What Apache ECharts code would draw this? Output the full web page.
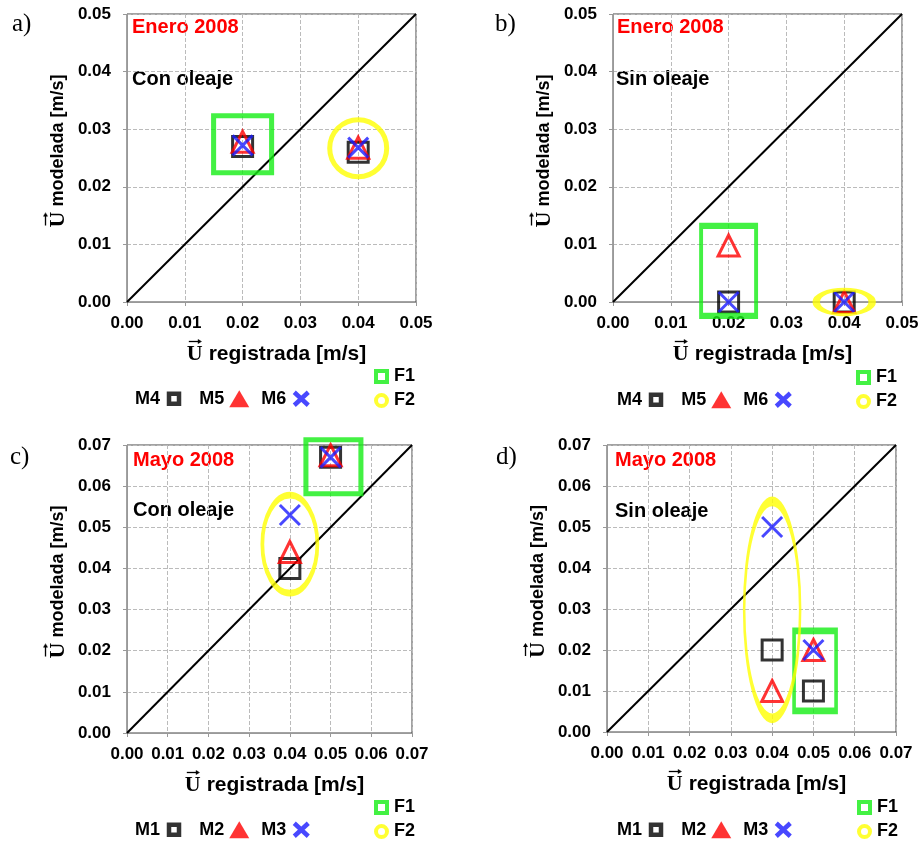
<!DOCTYPE html>
<html><head><meta charset="utf-8">
<script src="https://cdn.jsdelivr.net/npm/echarts@6/dist/echarts.min.js"></script>
<style>html,body{margin:0;padding:0;background:#fff}#c{width:922px;height:841px}</style>
</head><body><div id="c"></div>
<script>
// ---------- DATA ----------
const panelLetters = ['a)', 'b)', 'c)', 'd)'];
const panelMonths = ['Enero 2008', 'Enero 2008', 'Mayo 2008', 'Mayo 2008'];
const panelConditions = ['Con oleaje', 'Sin oleaje', 'Con oleaje', 'Sin oleaje'];
const modelNamesTop = ['M4', 'M5', 'M6'];
const modelNamesBottom = ['M1', 'M2', 'M3'];
const groupNames = ['F1', 'F2'];
const axisMax = [0.05, 0.05, 0.07, 0.07];
const axisStep = 0.01;
const vectorSymbol = 'U';
const xAxisName = 'registrada [m/s]';
const yAxisName = 'modelada [m/s]';

// U registrada (x) per panel
const registradaA = [0.02, 0.04];
const registradaB = [0.02, 0.04];
const registradaC = [0.04, 0.05];
const registradaD = [0.04, 0.05];

// U modelada (y) per panel and model
const a_M4 = [0.027, 0.026];
const a_M5 = [0.0278, 0.0268];
const a_M6 = [0.0272, 0.0268];
const b_M4 = [0.0, 0.0];
const b_M5 = [0.0098, 0.0];
const b_M6 = [0.0, 0.0];
const c_M1 = [0.040, 0.067];
const c_M2 = [0.044, 0.0675];
const c_M3 = [0.053, 0.067];
const d_M1 = [0.020, 0.010];
const d_M2 = [0.010, 0.020];
const d_M3 = [0.050, 0.020];

// group annotation centres (data units)
const f1Centers = [[0.02, 0.0274], [0.02, 0.0054], [0.0507, 0.0647], [0.0504, 0.0149]];
const f2Centers = [[0.04, 0.0267], [0.04, 0.0], [0.04, 0.0459], [0.04, 0.0298]];

// ---------- STYLE ----------
const FONT = 'Liberation Sans';
const SERIF = 'Liberation Serif';
const grids = [
  {left: 127, top: 14, width: 289, height: 288},
  {left: 613, top: 14, width: 289, height: 288},
  {left: 127, top: 445, width: 285, height: 288},
  {left: 607, top: 445, width: 289, height: 287}
];
const f1Sizes = [[58, 57], [55, 90], [55, 54], [42, 80]];
const f2Sizes = [[57, 57], [56, 25], [55, 98], [56, 217]];
const textPos = [
  {lx: 12, ly: 26, mx: 132, my: 28, cx: 132, cy: 80},
  {lx: 495, ly: 26, mx: 617, my: 28, cx: 616, cy: 80},
  {lx: 10, ly: 459, mx: 133, my: 461, cx: 133, cy: 511},
  {lx: 496, ly: 459, mx: 615, my: 461, cx: 615, cy: 512}
];
const GREEN = '#14ee14', YELLOW = '#ffff00', RED = '#ff0000', BLUE = '#1a1aff';
const X_PATH = 'path://M0,0L10,10M10,0L0,10';
const ELLIPSE = 'path://M0,50C0,22.4 22.4,0 50,0C77.6,0 100,22.4 100,50C100,77.6 77.6,100 50,100C22.4,100 0,77.6 0,50Z';
const markerStyles = [
  {symbol: 'rect', symbolSize: 20, itemStyle: {color: 'transparent', borderColor: '#000', borderWidth: 3}, z: 3},
  {symbol: 'triangle', symbolSize: 21, itemStyle: {color: 'transparent', borderColor: RED, borderWidth: 3}, z: 4},
  {symbol: X_PATH, symbolSize: 20, itemStyle: {color: 'transparent', borderColor: BLUE, borderWidth: 3}, z: 5}
];

// arrow drawn above the vector symbol (background of the rich-text segment)
function arrowCanvas(w, h) {
  const c = document.createElement('canvas');
  c.width = w; c.height = h;
  const g = c.getContext('2d');
  g.strokeStyle = '#000'; g.fillStyle = '#000'; g.lineWidth = 1.3;
  g.beginPath(); g.moveTo(2, 3.5); g.lineTo(w - 3, 3.5); g.stroke();
  g.beginPath(); g.moveTo(w - 1, 3.5); g.lineTo(w - 5, 1); g.lineTo(w - 5, 6); g.closePath(); g.fill();
  return c;
}
const ARROW = arrowCanvas(16, 32);

const registrada = [registradaA, registradaB, registradaC, registradaD];
const modelValues = [[a_M4, a_M5, a_M6], [b_M4, b_M5, b_M6], [c_M1, c_M2, c_M3], [d_M1, d_M2, d_M3]];

const axisLabelStyle = {fontFamily: FONT, fontWeight: 'bold', fontSize: 17, color: '#000'};
function nameStyle(size, pad) {
  return {
    fontFamily: FONT, fontWeight: 'bold', fontSize: size, color: '#000', padding: pad,
    rich: {u: {fontFamily: SERIF, fontWeight: 'bold', fontSize: 22, color: '#000',
      width: 16, height: 22, lineHeight: 22, padding: [5, 0, 5, 0], align: 'center',
      backgroundColor: {image: ARROW}}}
  };
}

const xAxes = [], yAxes = [], series = [], graphics = [];
for (let p = 0; p < 4; p++) {
  const common = {
    gridIndex: p, type: 'value', min: 0, max: axisMax[p], interval: axisStep,
    axisLine: {show: true, lineStyle: {color: '#999', width: 1}},
    axisTick: {show: true, length: 4, lineStyle: {color: '#999'}},
    splitLine: {show: true, lineStyle: {color: '#bbb', type: 'dashed', width: 1}},
    axisLabel: Object.assign({formatter: v => v.toFixed(2)}, axisLabelStyle),
    nameLocation: 'middle'
  };
  xAxes.push(Object.assign({}, common, {
    name: '{u|' + vectorSymbol + '} ' + xAxisName, nameGap: 41,
    nameTextStyle: nameStyle(21, [0, 0, 0, 10]),
    axisLabel: Object.assign({}, common.axisLabel, {margin: 13})
  }));
  yAxes.push(Object.assign({}, common, {
    name: '{u|' + vectorSymbol + '} ' + yAxisName, nameGap: 55,
    nameTextStyle: nameStyle(18, [0, 0, 0, 14]),
    axisLabel: Object.assign({}, common.axisLabel, {margin: 16})
  }));

  // 1:1 line
  series.push({
    type: 'line', xAxisIndex: p, yAxisIndex: p, data: [[0, 0], [axisMax[p], axisMax[p]]],
    symbol: 'none', lineStyle: {color: '#000', width: 2}, silent: true, z: 2
  });
  const names = p < 2 ? modelNamesTop : modelNamesBottom;
  names.forEach((nm, k) => {
    series.push(Object.assign({
      type: 'scatter', name: nm, xAxisIndex: p, yAxisIndex: p, clip: false, silent: true,
      data: registrada[p].map((x, i) => [x, modelValues[p][k][i]])
    }, markerStyles[k]));
  });
  series.push({
    type: 'scatter', name: groupNames[0], xAxisIndex: p, yAxisIndex: p, clip: false, silent: true,
    data: [f1Centers[p]], symbol: 'rect', symbolSize: f1Sizes[p],
    itemStyle: {color: 'transparent', borderColor: GREEN, borderWidth: 5}, z: 6
  });
  series.push({
    type: 'scatter', name: groupNames[1], xAxisIndex: p, yAxisIndex: p, clip: false, silent: true,
    data: [f2Centers[p]], symbol: ELLIPSE, symbolSize: f2Sizes[p],
    itemStyle: {color: 'transparent', borderColor: YELLOW, borderWidth: 5}, z: 6
  });

  const t = textPos[p];
  graphics.push({type: 'text', left: t.lx, top: t.ly - 14, style: {text: panelLetters[p], font: '25px ' + SERIF, fill: '#000'}});
  graphics.push({type: 'text', left: t.mx, top: t.my - 11, style: {text: panelMonths[p], font: 'bold 20px ' + FONT, fill: RED}});
  graphics.push({type: 'text', left: t.cx, top: t.cy - 11, style: {text: panelConditions[p], font: 'bold 20px ' + FONT, fill: '#000'}});
}

const legendText = {fontFamily: FONT, fontWeight: 'bold', fontSize: 18, color: '#000'};
const ICON_SQ = 'path://M0,0M4,3.5L14,3.5L14,13.5L4,13.5ZM20,17';
const ICON_TRI = 'path://M10,0L20,17L0,17Z';
const ICON_X = 'path://M0,0M3,2L17,15M17,2L3,15M20,17';
const ICON_F1 = 'path://M0,0M2,2L13,2L13,13L2,13ZM15,15';
const ICON_F2 = 'path://M0,0M2,7.5C2,4.5 4.5,2 7.5,2C10.5,2 13,4.5 13,7.5C13,10.5 10.5,13 7.5,13C4.5,13 2,10.5 2,7.5ZM15,15';
function modelLegend(names, left, top) {
  return {
    left, top, width: 300, orient: 'horizontal', align: 'right', selectedMode: false, itemGap: 12,
    itemWidth: 20, itemHeight: 17, textStyle: legendText, padding: 0, symbolKeepAspect: true,
    data: [
      {name: names[0], icon: ICON_SQ, itemStyle: {color: '#fff', borderColor: '#000', borderWidth: 4.5}},
      {name: names[1], icon: ICON_TRI, itemStyle: {color: RED, borderColor: RED, borderWidth: 0}},
      {name: names[2], icon: ICON_X, itemStyle: {color: 'transparent', borderColor: BLUE, borderWidth: 4.5}}
    ]
  };
}
function groupLegend(left, top) {
  return {
    left, top, height: 80, width: 80, orient: 'vertical', selectedMode: false, itemGap: 5,
    itemWidth: 15, itemHeight: 15, textStyle: legendText, padding: 0, symbolKeepAspect: true,
    data: [
      {name: groupNames[0], icon: ICON_F1, itemStyle: {color: '#fff', borderColor: GREEN, borderWidth: 4}},
      {name: groupNames[1], icon: ICON_F2, itemStyle: {color: '#fff', borderColor: YELLOW, borderWidth: 4}}
    ]
  };
}

const chart = echarts.init(document.getElementById('c'), null, {renderer: 'canvas'});
chart.setOption({
  backgroundColor: '#fff',
  animation: false,
  grid: grids.map(g => Object.assign({show: true, borderColor: '#444', borderWidth: 1, backgroundColor: 'transparent'}, g)),
  xAxis: xAxes,
  yAxis: yAxes,
  series,
  legend: [
    modelLegend(modelNamesTop, 135, 388),
    groupLegend(372, 367),
    modelLegend(modelNamesTop, 617, 389),
    groupLegend(854, 368),
    modelLegend(modelNamesBottom, 135, 819),
    groupLegend(372, 798),
    modelLegend(modelNamesBottom, 617, 819),
    groupLegend(855, 798)
  ],
  graphic: graphics
});
</script></body></html>
